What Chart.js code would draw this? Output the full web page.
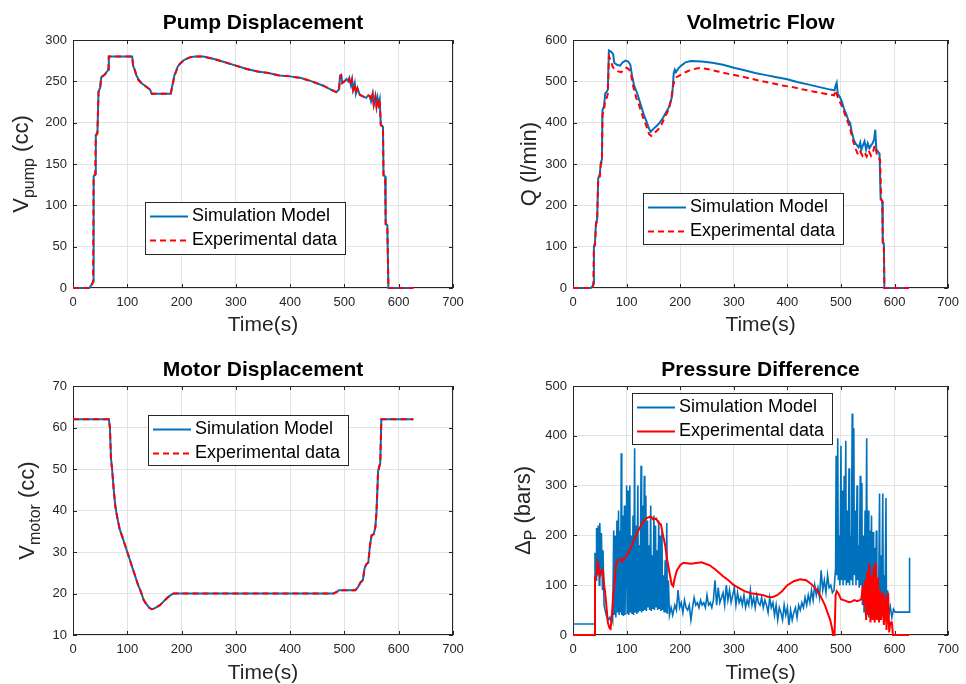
<!DOCTYPE html>
<html>
<head>
<meta charset="utf-8">
<title>Hydrostatic drive - simulation vs experiment</title>
<script src="https://cdn.jsdelivr.net/npm/chart.js@4.4.1/dist/chart.umd.min.js"></script>
<style>
    body { margin: 0; background: #fff; }
    #wrap { position: relative; width: 966px; height: 684px; }
    canvas { position: absolute; }
</style>
</head>
<body>
<div id="wrap">
    <canvas id="pumpChart" width="483" height="342" style="left:0;top:0"></canvas>
    <canvas id="flowChart" width="483" height="342" style="left:483px;top:0"></canvas>
    <canvas id="motorChart" width="483" height="342" style="left:0;top:342px"></canvas>
    <canvas id="pressureChart" width="483" height="342" style="left:483px;top:342px"></canvas>
</div>
<script>
// ---- data (time in s) ----
const seriesLabels = ['Simulation Model', 'Experimental data'];
const timeTicks = [0, 100, 200, 300, 400, 500, 600, 700];

// Pump displacement (cc)
const pumpTime = [0,30,34,37,38,41,42,45,47,50, 52,58,63,65,66,109,111,114,117,121,
    126,132,138,142,145,180,182,184,187,190, 193,198,205,215,225,240,260,280,300,320,
    340,360,380,400,420,440,460,475,485,490, 492,494,496,500,504,507,509,512,514,516,
    519,521,524,528,533,540,544,547,549,552, 554,557,559,561,563,565,567,571,572,575,
    576,579,581,627];
const pumpSim = [0,0,4,8,135,138,185,188,238,242, 255,258,262,264,280,280,268,264,257,252,
    248,245,242,240,235,235,242,248,258,262, 268,272,276,279,280,280,277,273,269,265,
    262,260,257,256,254,250,245,240,237,240, 257,258,248,250,253,250,254,245,252,240,
    248,235,242,234,232,230,233,232,226,235, 222,232,220,230,222,228,198,195,137,135,
    78,76,0,0];
const pumpExp = [0,0,3,7,134,137,184,187,237,241, 255,258,261,263,280,280,267,263,256,251,
    248,245,242,240,235,235,241,247,257,262, 268,272,276,279,280,280,277,273,269,265,
    262,260,257,256,254,250,245,240,237,240, 256,257,248,250,252,250,253,245,251,240,
    247,235,241,234,232,230,233,232,226,234, 222,231,220,229,222,227,197,195,136,135,
    77,76,0,0];

// Volumetric flow (l/min)
const flowSimTime = [0,33,37,38,39,41,43,45,47,50, 52,54,55,58,60,63,65,67,71,75,
    77,82,88,92,98,103,107,110,114,120, 126,132,138,142,145,150,156,162,168,175,
    180,185,188,190,192,197,202,210,220,240, 260,280,300,320,340,360,380,400,420,440,
    460,480,488,490,492,494,498,502,506,510, 514,517,520,524,527,530,533,536,538,541,
    544,547,550,553,556,559,562,564,566,569, 572,574,577,578,580,581,627];
const flowSim = [0,0,5,10,100,110,160,165,265,275, 305,310,430,440,470,475,480,575,572,565,
    545,540,538,545,550,548,540,515,490,470, 445,420,400,385,378,385,392,400,412,428,
    440,465,520,528,522,532,538,546,549,548, 545,540,533,527,520,515,510,505,498,492,
    486,480,478,490,497,470,462,450,432,420, 405,400,378,358,350,345,340,352,335,345,
    355,335,350,338,345,350,360,383,335,330, 325,215,210,110,108,0,0];
const flowExpTime = [0,33,37,38,39,41,43,45,47,50, 52,54,55,58,60,63,65,67,71,74,
    78,84,90,96,100,105,108,112,118,124, 130,136,142,146,152,158,165,172,178,183,
    187,190,193,200,210,220,235,250,270,290, 310,330,350,370,390,410,430,450,470,487,
    490,492,495,500,505,510,515,520,524,528, 532,536,540,544,548,552,556,560,563,565,
    567,570,573,575,577,578,580,581,627];
const flowExp = [0,0,3,8,95,105,155,160,260,270, 300,305,420,430,455,460,470,560,550,535,
    528,524,522,530,533,528,520,490,460,440, 415,395,372,368,375,382,395,415,430,455,
    490,505,510,515,522,528,532,530,524,518, 513,507,501,496,490,486,480,475,470,466,
    478,470,458,445,430,410,395,370,350,335, 322,330,320,328,318,332,320,330,345,338,
    322,315,310,215,210,108,105,0,0];

// Motor displacement (cc)
const motorTime = [0,66,68,70,72,75,78,82,86,90, 95,100,105,110,115,120,125,130,135,140,
    145,150,155,160,165,170,175,180,185,300, 480,485,490,520,525,530,534,537,540,544,
    547,550,554,557,559,561,562,566,568,627];
const motorSim = [62,62,60,52.5,50,45,41,38,35.5,34, 32,30,28,26,24,22,20.5,18.5,17.5,16.6,
    16.2,16.4,16.8,17.2,17.8,18.5,19.1,19.6,20,20, 20,20.3,20.8,20.8,21.5,22.8,23.2,26,27,27.5,
    31.5,34,34.3,36,39.5,46,49.5,51.5,62,62];
const motorExp = [62,62,60,52.4,50,45,41,38,35.4,34, 32,30,28,26,24,22,20.4,18.5,17.4,16.6,
    16.2,16.4,16.8,17.2,17.8,18.5,19.1,19.6,20,20, 20,20.3,20.8,20.8,21.5,22.7,23.2,26,27,27.5,
    31.4,34,34.3,36,39.4,46,49.4,51.5,62,62];

// Pressure difference (bars)
const pressSimTime = [0,40,41,43,44,46,47,49,50,52, 53,55,56,58,60,62,65,68,70,72,
    74,76,77,79,80,82,83,85,86,88, 89,90,91,93,94,96,97,99,100,101,
    103,104,106,107,109,110,112,113,115,116, 118,119,121,122,124,125,127,128,130,131,
    133,134,136,137,139,140,142,143,145,146, 148,149,151,152,154,155,157,158,160,161,
    163,164,166,167,169,170,172,173,175,176, 178,180,183,186,190,193,196,199,202,205,
    208,211,214,217,220,223,226,229,232,235, 238,241,244,247,250,253,256,259,262,265,
    268,271,274,277,280,283,286,289,292,295, 298,301,304,307,310,313,316,319,322,325,
    328,331,334,337,340,343,346,349,352,355, 358,361,364,367,370,373,376,379,382,385,
    388,391,394,397,400,403,406,409,412,415, 418,421,424,427,430,433,436,439,442,445,
    448,451,454,457,460,463,466,469,472,475, 478,481,484,487,490,491,492,494,495,497,
    498,500,501,503,504,506,507,509,510,512, 513,515,516,518,519,521,522,524,525,527,
    528,530,531,533,534,536,537,539,540,542, 543,545,546,548,549,551,552,554,555,557,
    558,560,561,563,564,566,567,569,570,572, 573,575,576,578,579,581,582,584,585,587,
    589,592,595,598,601,627,628];
const pressSim = [22,22,165,110,215,120,220,100,225,120, 205,90,170,60,50,40,30,35,30,40,
    30,210,40,200,35,230,45,250,40,210, 45,365,40,240,38,260,40,195,300,42,
    290,40,300,45,200,42,240,40,375,45, 220,42,300,45,180,48,340,45,260,48,
    320,50,280,48,230,55,180,50,260,48, 160,52,240,50,220,55,170,50,230,52,
    200,48,210,50,120,45,150,45,225,42, 110,40,55,40,60,50,90,55,65,45,
    70,55,50,60,30,55,75,60,65,55, 70,60,65,55,80,60,65,55,70,110,
    60,95,65,75,85,60,100,70,90,65, 80,95,60,85,65,75,60,80,55,70,
    60,90,60,75,55,80,65,60,75,55, 70,60,45,75,55,65,40,60,30,55,
    45,30,60,40,55,20,50,30,45,55, 35,60,50,65,55,75,60,80,65,90,
    70,100,80,95,75,130,90,110,85,120, 95,100,85,90,135,360,120,395,110,200,
    100,380,110,290,100,320,110,390,100,250, 105,335,100,200,110,445,100,415,120,250,
    100,300,110,180,95,320,100,305,60,200, 45,250,40,395,45,250,35,210,40,240,
    38,207,50,175,40,210,45,110,40,284, 45,160,40,284,50,120,40,275,30,90,
    40,57,35,52,46,46,155];
const pressExpTime = [0,40,41,44,46,48,50,53,56,58, 60,63,65,68,70,72,75,78,80,84,
    88,92,96,100,105,110,116,122,128,134, 140,145,150,155,160,164,168,172,176,180,
    184,187,190,194,200,206,220,240,255,265, 280,290,300,310,320,332,345,355,363,372,
    381,390,400,412,424,435,445,455,462,470, 476,480,484,485,488,490,492,495,500,505,
    510,515,520,525,530,535,538,541,543,545, 547,549,551,553,555,557,559,561,563,565,
    567,569,571,573,575,578,580,583,585,588, 590,592,595,597,627];
const pressExp = [0,0,115,120,145,135,118,128,130,100, 85,50,25,14,12,30,80,110,140,150,
    152,148,155,160,168,180,197,210,222,232, 236,238,232,234,225,222,200,180,150,125,
    102,98,115,130,140,145,143,146,140,132, 118,110,100,94,88,84,82,80,77,76,
    80,88,100,108,112,110,102,90,78,60, 42,30,10,0,0,80,88,84,72,70,
    68,66,67,70,68,70,72,100,60,110, 30,128,40,144,25,120,30,138,25,145,
    30,115,25,90,30,85,20,80,10,85, 5,25,25,0,0];

const simBlue = '#0072BD';
const expRed = '#FF0000';
const fontFamily = '"Liberation Sans", Arial, Helvetica, sans-serif';

Chart.defaults.font.family = fontFamily;
Chart.defaults.color = '#262626';

function xy(times, values) {
    return times.map((t, i) => ({ x: t, y: values[i] }));
}

// MATLAB-like look: axes box, inward ticks, title, rotated y label with subscript, boxed legend
function matlabLook(look) {
    return {
        id: 'matlabLook',
        beforeDatasetsDraw(chart) {
            const ctx = chart.ctx;
            const a = chart.chartArea;
            const xs = chart.scales.x;
            const ys = chart.scales.y;
            ctx.save();
            ctx.strokeStyle = '#262626';
            ctx.lineWidth = 1;
            ctx.beginPath();
            xs.ticks.forEach(t => {
                const px = Math.round(xs.getPixelForValue(t.value)) + 0.5;
                ctx.moveTo(px, a.bottom); ctx.lineTo(px, a.bottom - 4);
                ctx.moveTo(px, a.top); ctx.lineTo(px, a.top + 4);
            });
            ys.ticks.forEach(t => {
                const py = Math.round(ys.getPixelForValue(t.value)) + 0.5;
                ctx.moveTo(a.left, py); ctx.lineTo(a.left + 4, py);
                ctx.moveTo(a.right, py); ctx.lineTo(a.right - 4, py);
            });
            ctx.stroke();
            ctx.strokeRect(Math.round(a.left) + 0.5, Math.round(a.top) + 0.5,
                Math.round(a.width) - 1, Math.round(a.height) - 1);
            ctx.restore();
        },
        afterDraw(chart) {
            const ctx = chart.ctx;
            const a = chart.chartArea;
            ctx.save();

            // title
            ctx.fillStyle = '#000';
            ctx.font = 'bold 21px ' + fontFamily;
            ctx.textAlign = 'center';
            ctx.textBaseline = 'middle';
            ctx.fillText(look.title, (a.left + a.right) / 2, look.titleY);

            // y label, rotated; parts with dy are subscripts
            ctx.save();
            ctx.translate(look.yLabelX, (a.top + a.bottom) / 2);
            ctx.rotate(-Math.PI / 2);
            ctx.fillStyle = '#262626';
            ctx.textAlign = 'left';
            ctx.textBaseline = 'alphabetic';
            let total = 0;
            look.yLabel.forEach(p => {
                ctx.font = p.size + 'px ' + fontFamily;
                total += ctx.measureText(p.text).width;
            });
            let x = -total / 2;
            look.yLabel.forEach(p => {
                ctx.font = p.size + 'px ' + fontFamily;
                ctx.fillText(p.text, x, p.dy || 0);
                x += ctx.measureText(p.text).width;
            });
            ctx.restore();

            // legend
            const lg = look.legend;
            ctx.fillStyle = '#fff';
            ctx.fillRect(lg.x, lg.y, lg.w, lg.h);
            ctx.strokeStyle = '#262626';
            ctx.lineWidth = 1;
            ctx.setLineDash([]);
            ctx.strokeRect(lg.x + 0.5, lg.y + 0.5, lg.w, lg.h);
            ctx.font = '18px ' + fontFamily;
            ctx.textAlign = 'left';
            ctx.textBaseline = 'middle';
            chart.data.datasets.forEach((ds, i) => {
                const cy = lg.y + 14.5 + 24 * i;
                ctx.strokeStyle = ds.borderColor;
                ctx.lineWidth = 2;
                ctx.setLineDash(ds.borderDash || []);
                ctx.beginPath();
                ctx.moveTo(lg.x + 5, cy);
                ctx.lineTo(lg.x + 43, cy);
                ctx.stroke();
                ctx.setLineDash([]);
                ctx.fillStyle = '#000';
                ctx.fillText(ds.label, lg.x + 47, cy);
            });
            ctx.restore();
        }
    };
}

function createPlot(canvasId, datasets, yRange, box, look) {
    const ctx = document.getElementById(canvasId).getContext('2d');
    return new Chart(ctx, {
        type: 'line',
        data: { datasets: datasets },
        options: {
            responsive: false,
            animation: false,
            events: [],
            layout: { padding: { left: 0, right: box.padRight, top: box.top, bottom: 0 } },
            elements: { point: { radius: 0 }, line: { tension: 0 } },
            scales: {
                x: {
                    type: 'linear',
                    min: 0,
                    max: 700,
                    afterBuildTicks: axis => { axis.ticks = timeTicks.map(v => ({ value: v })); },
                    ticks: { font: { size: 13 }, padding: 7, maxRotation: 0, autoSkip: false },
                    grid: { color: '#e3e3e3', drawTicks: false },
                    border: { display: false },
                    title: {
                        display: true,
                        text: 'Time(s)',
                        font: { size: 21, lineHeight: 1 },
                        padding: { top: 0, bottom: box.xTitlePad }
                    },
                    afterFit: axis => { axis.height = box.xHeight; }
                },
                y: {
                    min: yRange[0],
                    max: yRange[1],
                    ticks: { stepSize: yRange[2], font: { size: 13 }, padding: 6 },
                    grid: { color: '#e3e3e3', drawTicks: false },
                    border: { display: false },
                    afterFit: axis => { axis.width = box.left; }
                }
            },
            plugins: {
                legend: { display: false },
                tooltip: { enabled: false }
            }
        },
        plugins: [matlabLook(look)]
    });
}

function simSet(data, width) {
    return {
        label: seriesLabels[0], data: data, borderColor: simBlue, borderWidth: width,
        clip: 4, order: 2
    };
}
function expSet(data, dashed) {
    return {
        label: seriesLabels[1], data: data, borderColor: expRed, borderWidth: 2,
        borderDash: dashed ? [6, 4] : [], clip: 4, order: 1
    };
}

window.onload = function() {
    createPlot('pumpChart',
        [simSet(xy(pumpTime, pumpSim), 2), expSet(xy(pumpTime, pumpExp), true)],
        [0, 300, 50],
        { left: 73, padRight: 30, top: 40, xHeight: 54, xTitlePad: 6.5 },
        {
            title: 'Pump Displacement', titleY: 23, yLabelX: 28,
            yLabel: [{ text: 'V', size: 22 }, { text: 'pump', size: 16, dy: 6 }, { text: ' (cc)', size: 22 }],
            legend: { x: 145, y: 202, w: 200, h: 52 }
        });

    createPlot('flowChart',
        [simSet(xy(flowSimTime, flowSim), 2), expSet(xy(flowExpTime, flowExp), true)],
        [0, 600, 100],
        { left: 90, padRight: 13, top: 40, xHeight: 54, xTitlePad: 6.5 },
        {
            title: 'Volmetric Flow', titleY: 23, yLabelX: 53,
            yLabel: [{ text: 'Q (l/min)', size: 22 }],
            legend: { x: 160, y: 193, w: 200, h: 51 }
        });

    createPlot('motorChart',
        [simSet(xy(motorTime, motorSim), 2), expSet(xy(motorTime, motorExp), true)],
        [10, 70, 10],
        { left: 73, padRight: 30, top: 44, xHeight: 49, xTitlePad: 0.5 },
        {
            title: 'Motor Displacement', titleY: 28, yLabelX: 34,
            yLabel: [{ text: 'V', size: 22 }, { text: 'motor', size: 16, dy: 6 }, { text: ' (cc)', size: 22 }],
            legend: { x: 148, y: 73, w: 200, h: 50 }
        });

    createPlot('pressureChart',
        [simSet(xy(pressSimTime, pressSim), 1.6), expSet(xy(pressExpTime, pressExp), false)],
        [0, 500, 100],
        { left: 90, padRight: 13, top: 44, xHeight: 49, xTitlePad: 0.5 },
        {
            title: 'Pressure Difference', titleY: 28, yLabelX: 47,
            yLabel: [{ text: '\u0394', size: 22 }, { text: 'P', size: 16, dy: 6 }, { text: ' (bars)', size: 22 }],
            legend: { x: 149, y: 51, w: 200, h: 51 }
        });
};
</script>
</body>
</html>
